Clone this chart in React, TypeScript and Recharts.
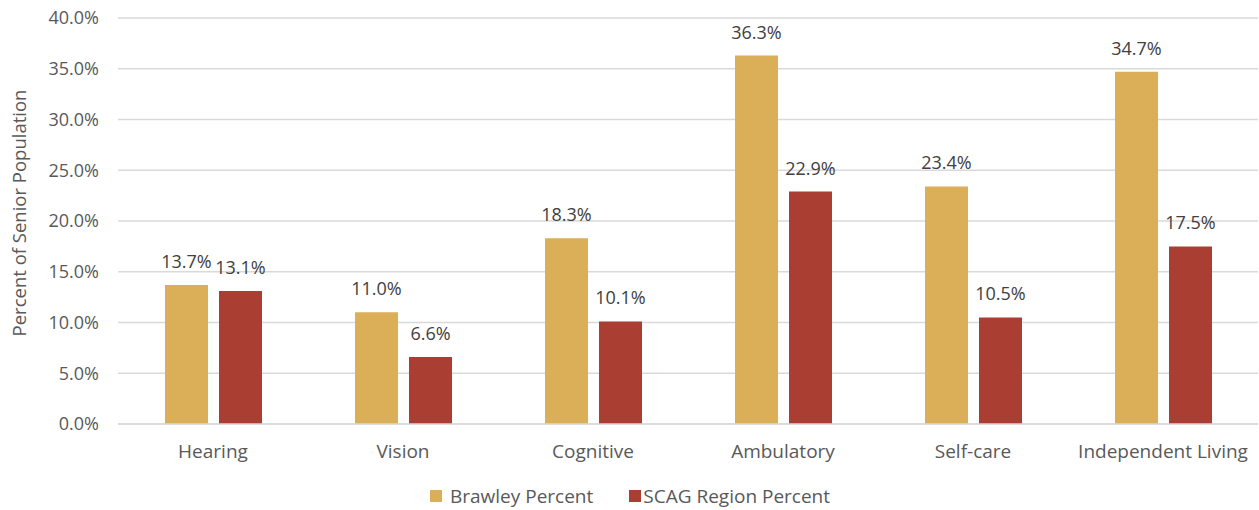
import { BarChart, Bar, XAxis, YAxis, CartesianGrid, Legend, LabelList } from "recharts";

const categories = ["Hearing", "Vision", "Cognitive", "Ambulatory", "Self-care", "Independent Living"];
const brawleyPercent = [13.7, 11.0, 18.3, 36.3, 23.4, 34.7];
const scagPercent = [13.1, 6.6, 10.1, 22.9, 10.5, 17.5];
const yTicks = [0, 5, 10, 15, 20, 25, 30, 35, 40];

const GOLD = "#DBAE58";
const RED = "#AB3E32";
const TEXT = "#595959";
const FONT = "'Open Sans', 'Liberation Sans', Arial, sans-serif";

const data = categories.map((name, i) => ({
  name,
  brawley: brawleyPercent[i],
  scag: scagPercent[i],
}));

const pct = (v: number) => `${Number(v).toFixed(1)}%`;

function LegendBox() {
  const items = [
    { label: "Brawley Percent", color: GOLD, gap: 8 },
    { label: "SCAG Region Percent", color: RED, gap: 2 },
  ];
  return (
    <div
      style={{
        display: "flex",
        gap: 36,
        marginLeft: 430,
        paddingTop: 10,
        fontFamily: FONT,
        fontSize: 19,
        lineHeight: "24px",
        color: TEXT,
      }}
    >
      {items.map((it) => (
        <div key={it.label} style={{ display: "flex", alignItems: "center" }}>
          <span style={{ width: 12, height: 12, background: it.color, display: "inline-block", marginRight: it.gap }} />
          <span>{it.label}</span>
        </div>
      ))}
    </div>
  );
}

export default function App() {
  return (
    <div style={{ position: "absolute", left: 0, top: 0, background: "#fff" }}>
      <BarChart
        width={1259}
        height={510}
        data={data}
        margin={{ top: 18, right: 1, left: 0, bottom: 0 }}
        barGap={11}
        barSize={43}
      >
        <CartesianGrid vertical={false} stroke="#D9D9D9" strokeWidth={1.5} />
        <XAxis
          dataKey="name"
          axisLine={{ stroke: "#D9D9D9", strokeWidth: 1.5 }}
          tickLine={false}
          height={50}
          tick={{ fill: TEXT, fontSize: 19, fontFamily: FONT }}
          tickMargin={15}
          interval={0}
        />
        <YAxis
          domain={[0, 40]}
          ticks={yTicks}
          tickFormatter={pct}
          axisLine={false}
          tickLine={false}
          width={118}
          tick={{ fill: TEXT, fontSize: 18, fontFamily: FONT }}
          tickMargin={13}
          label={{
            value: "Percent of Senior Population",
            angle: -90,
            position: "insideLeft",
            dx: 14,
            dy: -8,
            style: { fill: TEXT, fontSize: 18.5, fontFamily: FONT, textAnchor: "middle" },
          }}
        />
        <Legend verticalAlign="bottom" height={36} content={() => <LegendBox />} />
        <Bar dataKey="brawley" name="Brawley Percent" fill={GOLD} isAnimationActive={false}>
          <LabelList dataKey="brawley" position="top" offset={17} formatter={pct} style={{ fill: "#404040", fontSize: 18, fontFamily: FONT }} />
        </Bar>
        <Bar dataKey="scag" name="SCAG Region Percent" fill={RED} isAnimationActive={false}>
          <LabelList dataKey="scag" position="top" offset={17} formatter={pct} style={{ fill: "#404040", fontSize: 18, fontFamily: FONT }} />
        </Bar>
      </BarChart>
    </div>
  );
}
